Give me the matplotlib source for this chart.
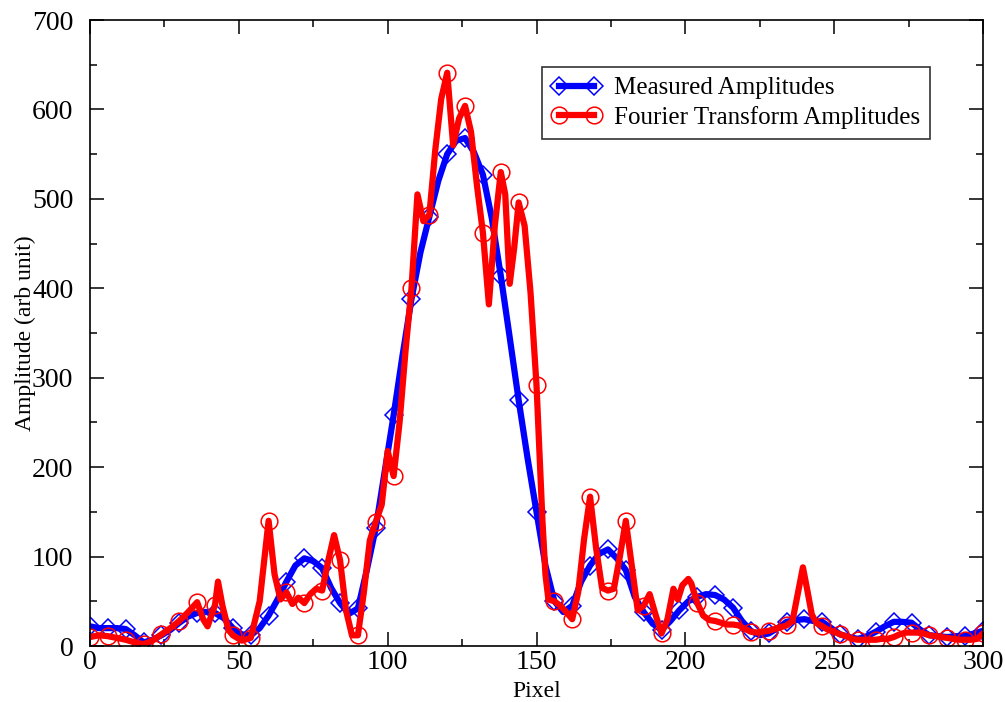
import matplotlib
matplotlib.use("Agg")
import matplotlib.pyplot as plt
from matplotlib.ticker import MultipleLocator

plt.rcParams['font.family'] = ['Liberation Serif', 'DejaVu Serif']

# Measured amplitudes (every 3 pixels)
blue_x = list(range(0, 301, 3))
blue_y = [22, 20, 20, 20, 19, 12, 4, 7, 12, 18,
          26, 33, 37, 38, 37, 31, 20, 13, 12, 20,
          34, 52, 72, 90, 98, 95, 87, 65, 48, 36,
          42, 85, 132, 195, 258, 325, 388, 440, 480, 520,
          550, 565, 568, 552, 527, 478, 414, 345, 275, 210,
          150, 90, 50, 38, 45, 72, 90, 103, 108, 98,
          85, 55, 38, 25, 18, 28, 40, 50, 55, 58,
          57, 52, 43, 28, 17, 12, 14, 20, 27, 29,
          30, 28, 27, 20, 13, 10, 8, 11, 16, 22,
          27, 27, 26, 18, 12, 11, 10, 11, 11, 14, 17]

# Fourier transform amplitudes
red_x = [0, 3, 6, 9, 12, 15, 18, 21, 24, 27, 30, 33, 36, 38, 39.5, 42, 43, 44.5, 46.5, 48,
         51, 54, 57, 60, 62, 64, 66, 68, 70, 72, 74, 76, 78, 80, 82, 84, 86, 88, 90, 92,
         94, 96, 98, 100, 102, 104, 106, 108, 110, 112, 114, 116, 118, 120, 122, 124, 126, 128, 130, 132,
         134, 136, 138, 139.5, 141, 142.5, 144, 146, 148, 150, 152, 153, 154, 156, 158, 160, 162, 164, 166, 168,
         170, 172, 174, 176, 178, 180, 182, 184, 186, 188, 190, 192, 194, 196, 197.5, 199, 201, 202, 204, 206,
         208, 210, 212, 214, 216, 218, 220, 222, 224, 226, 228, 230, 232, 234, 236, 238, 239.5, 241, 242.5, 244,
         246, 248, 250, 252, 254, 256, 258, 260, 262, 264, 266, 268, 270, 272, 274, 276, 278, 280, 282, 284,
         286, 288, 290, 292, 294, 296, 298, 300]
red_y = [10, 12, 11, 9, 7, 4, 2, 6, 13, 20, 28, 38, 49, 30, 22, 46, 72, 45, 18, 12,
         6, 9, 50, 140, 80, 52, 60, 47, 54, 48, 58, 64, 62, 95, 124, 96, 40, 12, 12, 60,
         118, 139, 158, 218, 190, 250, 330, 400, 505, 475, 482, 555, 612, 641, 560, 590, 604, 575, 515, 462,
         382, 470, 530, 505, 405, 445, 496, 470, 395, 292, 140, 80, 52, 50, 45, 38, 30, 60, 120, 167,
         110, 65, 62, 64, 100, 140, 90, 40, 45, 58, 35, 14, 30, 64, 52, 68, 75, 70, 48, 34,
         29, 28, 26, 24, 24, 23, 19, 16, 15, 16, 17, 19, 21, 23, 28, 62, 88, 62, 35, 26,
         22, 18, 16, 13, 11, 8, 7, 7, 7, 7, 8, 8, 10, 13, 15, 15, 15, 14, 12, 11,
         10, 9, 8, 7, 7, 7, 8, 14]

labels = ["Measured Amplitudes", "Fourier Transform Amplitudes"]

fig = plt.figure(figsize=(10.05, 7.02), dpi=100)
ax = fig.add_axes([90/1005, 56/702, 893/1005, 626/702])

ax.plot(blue_x, blue_y, color='#0000ff', lw=4.5, marker='D', ms=9.5,
        mfc='none', mec='#0000ff', mew=1.1, markevery=2,
        solid_joinstyle='round', label=labels[0])
red_marks = [i for i, v in enumerate(red_x) if v % 6 == 0]
ax.plot(red_x, red_y, color='#ff0000', lw=4.5, marker='o', ms=12,
        mfc='none', mec='#ff0000', mew=1.1, markevery=red_marks,
        solid_joinstyle='round', label=labels[1])

ax.set_xlim(0, 300)
ax.set_ylim(0, 700)
ax.xaxis.set_major_locator(MultipleLocator(50))
ax.xaxis.set_minor_locator(MultipleLocator(25))
ax.yaxis.set_major_locator(MultipleLocator(100))
ax.yaxis.set_minor_locator(MultipleLocator(50))
ax.tick_params(which='both', direction='in', top=True, right=True,
               width=1.1, labelsize=20, colors='black')
ax.tick_params(which='major', length=10)
ax.tick_params(which='minor', length=5)
ax.tick_params(axis='x', pad=3)
ax.tick_params(axis='y', pad=12)
for sp in ax.spines.values():
    sp.set_linewidth(1.2)

ax.set_xlabel("Pixel", fontsize=17, labelpad=4)
ax.set_ylabel("Amplitude (arb unit)", fontsize=17, labelpad=-3)

leg = ax.legend(loc='upper right', bbox_to_anchor=(0.941, 0.925), fontsize=18,
                numpoints=2, handlelength=2.0, frameon=True, fancybox=False,
                borderpad=0.4, labelspacing=0.25, handletextpad=0.5, borderaxespad=0)
leg.get_frame().set_edgecolor('black')
leg.get_frame().set_linewidth(1.2)

fig.savefig("out.png", dpi=100)
